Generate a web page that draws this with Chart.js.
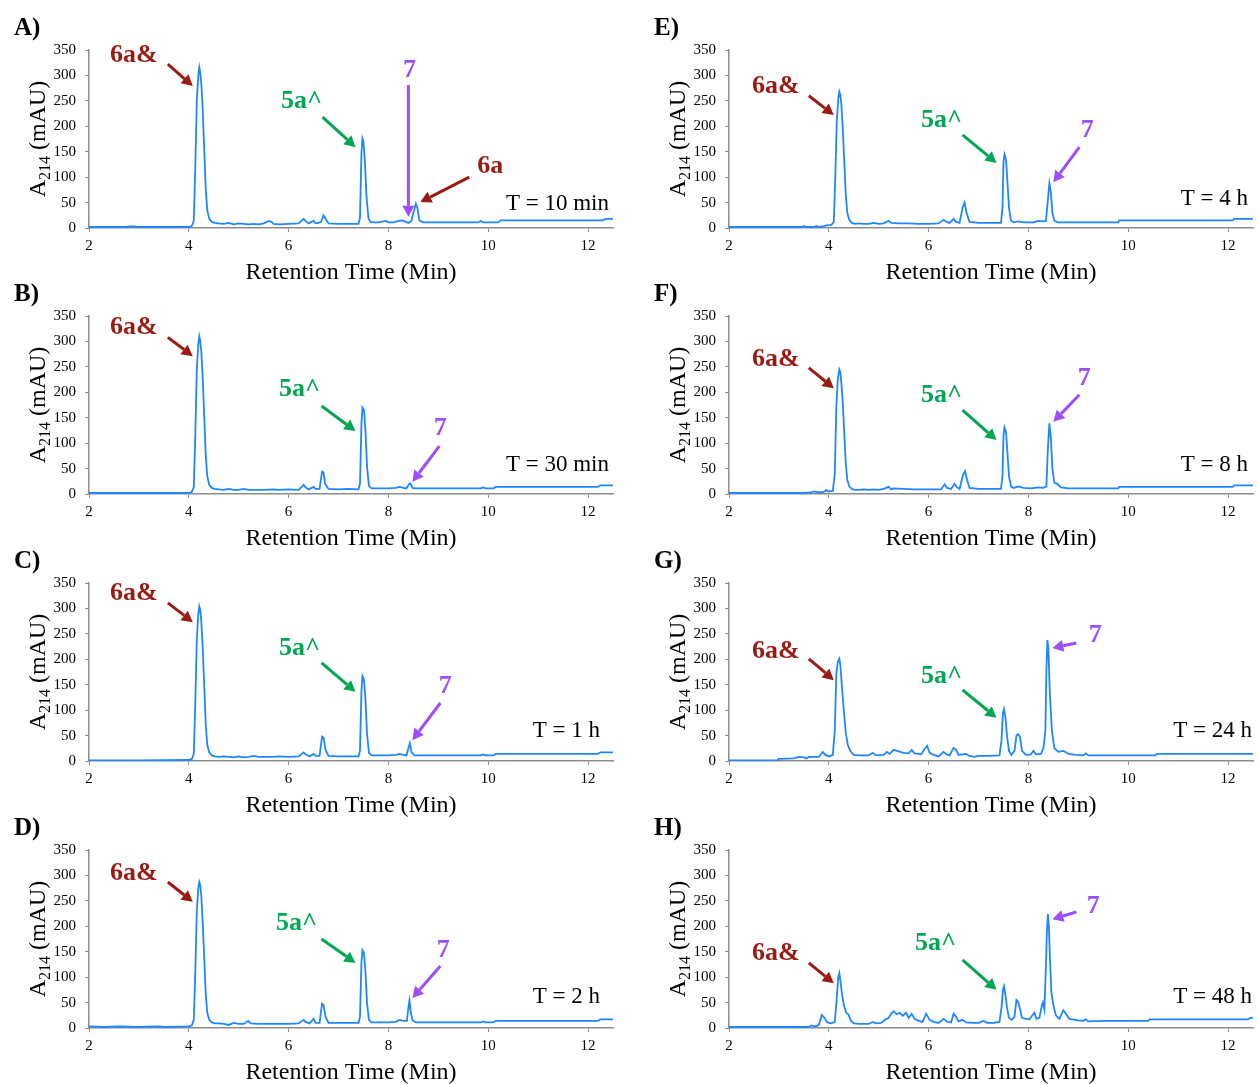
<!DOCTYPE html>
<html>
<head>
<meta charset="utf-8">
<script src="https://cdn.jsdelivr.net/npm/chart.js@4/dist/chart.umd.min.js"></script>
<style>
  body { margin: 0; background: #fff; width: 1259px; height: 1084px; position: relative; overflow: hidden; }
  canvas { position: absolute; }
</style>
</head>
<body>
<script>
// HPLC traces, [retention time (min), A214 (mAU)]
const traceA = [[2.0,2],[2.75,2],[2.8,3],[2.9,3],[2.95,2],[4.0,2],[4.06,4],[4.1,14],[4.13,120],[4.16,250],[4.19,300],[4.21,316],[4.23,305],[4.25,285],[4.28,230],[4.31,150],[4.34,75],[4.37,35],[4.41,18],[4.46,12],[4.52,10],[4.6,9],[4.7,8],[4.8,10],[4.9,7],[5.0,9],[5.1,8],[5.2,7],[5.3,8],[5.4,7],[5.5,9],[5.6,14],[5.65,12],[5.7,8],[5.8,7],[6.0,8],[6.2,9],[6.3,18],[6.34,14],[6.4,9],[6.5,14],[6.53,10],[6.57,9],[6.65,12],[6.7,25],[6.74,18],[6.8,9],[7.0,8],[7.2,8],[7.4,8],[7.43,20],[7.46,150],[7.48,176],[7.5,170],[7.53,127],[7.56,62],[7.6,19],[7.64,12],[7.7,11],[7.8,11],[7.95,14],[8.0,11],[8.1,11],[8.2,14],[8.28,15],[8.35,12],[8.4,10],[8.46,14],[8.5,30],[8.55,48],[8.58,40],[8.62,15],[8.7,11],[9.0,11],[9.5,11],[9.8,11],[9.85,14],[9.9,11],[10.2,11],[10.25,15],[11.0,15],[12.0,15],[12.3,15],[12.35,18],[12.5,18]];
const traceB = [[2.0,2],[3.0,2],[4.0,2],[4.06,4],[4.1,14],[4.13,115],[4.16,245],[4.19,295],[4.21,310],[4.23,300],[4.25,280],[4.28,225],[4.31,150],[4.34,75],[4.37,35],[4.41,18],[4.46,12],[4.52,10],[4.6,9],[4.7,8],[4.8,10],[4.9,8],[5.0,8],[5.1,10],[5.2,8],[5.3,8],[5.5,8],[5.7,9],[5.8,8],[6.0,9],[6.2,8],[6.3,18],[6.34,13],[6.4,9],[6.5,14],[6.54,10],[6.62,10],[6.67,44],[6.7,42],[6.73,20],[6.8,10],[7.0,9],[7.2,10],[7.4,9],[7.43,20],[7.46,140],[7.48,170],[7.51,165],[7.54,125],[7.57,55],[7.61,16],[7.66,11],[7.8,11],[8.0,11],[8.15,12],[8.22,14],[8.3,12],[8.36,11],[8.41,19],[8.44,21],[8.48,12],[8.55,11],[9.0,11],[9.5,11],[9.85,11],[9.9,13],[9.95,11],[10.1,11],[10.15,14],[11.0,14],[12.0,14],[12.2,14],[12.25,17],[12.5,17]];
const traceC = [[2.0,1],[3.0,1],[4.0,2],[4.06,4],[4.1,14],[4.13,115],[4.16,240],[4.19,290],[4.21,304],[4.23,296],[4.25,275],[4.28,220],[4.31,145],[4.34,70],[4.37,32],[4.41,17],[4.46,11],[4.52,9],[4.6,8],[4.7,9],[4.8,8],[4.9,7],[5.0,9],[5.1,7],[5.2,8],[5.3,10],[5.4,8],[5.5,8],[5.7,8],[5.8,9],[6.0,8],[6.2,9],[6.3,17],[6.34,13],[6.42,9],[6.5,14],[6.54,10],[6.62,10],[6.67,48],[6.7,46],[6.74,22],[6.8,10],[7.0,9],[7.2,9],[7.4,9],[7.43,20],[7.46,140],[7.48,167],[7.51,160],[7.54,120],[7.57,55],[7.61,16],[7.66,11],[7.8,11],[8.0,11],[8.15,12],[8.22,14],[8.3,12],[8.36,11],[8.4,25],[8.43,35],[8.46,18],[8.52,11],[9.0,11],[9.5,11],[9.85,11],[9.9,13],[9.95,11],[10.1,11],[10.15,14],[11.0,14],[12.0,14],[12.2,14],[12.25,17],[12.5,17]];
const traceD = [[2.0,3],[2.3,2],[2.6,3],[3.0,2],[3.4,3],[3.5,2],[4.0,3],[4.06,5],[4.1,16],[4.13,110],[4.16,230],[4.19,275],[4.21,287],[4.23,280],[4.25,260],[4.28,205],[4.31,135],[4.34,65],[4.37,30],[4.41,16],[4.46,11],[4.52,9],[4.6,9],[4.7,8],[4.8,6],[4.9,10],[5.0,8],[5.1,8],[5.19,14],[5.24,9],[5.4,8],[5.6,8],[5.8,8],[6.0,8],[6.2,9],[6.3,16],[6.34,12],[6.42,9],[6.5,18],[6.54,10],[6.62,10],[6.67,48],[6.7,45],[6.74,22],[6.8,10],[7.0,10],[7.2,10],[7.4,10],[7.43,22],[7.46,130],[7.48,153],[7.51,148],[7.54,110],[7.57,50],[7.61,16],[7.66,11],[7.8,11],[8.0,11],[8.15,12],[8.22,16],[8.3,14],[8.37,14],[8.4,40],[8.42,54],[8.45,30],[8.48,16],[8.55,11],[9.0,11],[9.5,11],[9.85,11],[9.9,13],[9.95,11],[10.1,11],[10.15,14],[11.0,14],[12.0,14],[12.2,14],[12.25,17],[12.5,17]];
const traceE = [[2.0,2],[3.0,2],[3.45,2],[3.5,4],[3.55,2],[3.7,2],[3.75,4],[3.8,2],[3.9,3],[3.95,5],[4.05,6],[4.1,12],[4.13,100],[4.16,210],[4.19,255],[4.21,268],[4.23,262],[4.25,245],[4.28,195],[4.31,130],[4.34,65],[4.37,30],[4.41,16],[4.46,10],[4.52,8],[4.6,9],[4.7,8],[4.8,8],[4.9,10],[5.0,8],[5.1,9],[5.2,14],[5.25,10],[5.4,9],[5.6,9],[5.8,8],[6.0,8],[6.2,9],[6.3,16],[6.36,12],[6.42,10],[6.5,18],[6.55,12],[6.62,10],[6.68,40],[6.72,50],[6.76,30],[6.82,12],[7.0,10],[7.2,10],[7.45,10],[7.48,40],[7.5,130],[7.52,145],[7.55,135],[7.58,90],[7.61,40],[7.65,15],[7.7,11],[7.8,13],[7.9,11],[8.1,11],[8.2,14],[8.28,13],[8.35,14],[8.39,55],[8.42,88],[8.45,70],[8.48,30],[8.52,14],[8.6,11],[9.0,11],[9.5,11],[9.8,11],[9.82,15],[11.0,15],[12.0,15],[12.1,15],[12.12,18],[12.5,18]];
const traceF = [[2.0,2],[3.0,2],[3.5,2],[3.65,3],[3.7,5],[3.8,3],[3.9,4],[3.95,8],[4.0,5],[4.08,6],[4.12,40],[4.15,170],[4.18,225],[4.21,245],[4.23,240],[4.25,220],[4.28,180],[4.31,120],[4.34,60],[4.37,28],[4.41,15],[4.46,10],[4.52,8],[4.6,8],[4.7,9],[4.8,8],[4.9,9],[5.0,8],[5.1,10],[5.2,14],[5.25,9],[5.3,11],[5.5,10],[5.7,9],[5.9,9],[6.1,9],[6.25,9],[6.32,19],[6.37,12],[6.45,10],[6.52,20],[6.56,14],[6.62,10],[6.69,38],[6.73,45],[6.77,28],[6.82,12],[7.0,10],[7.2,10],[7.45,10],[7.48,35],[7.5,115],[7.52,131],[7.55,122],[7.58,80],[7.61,35],[7.65,15],[7.7,12],[7.8,15],[7.9,12],[8.05,11],[8.2,13],[8.3,12],[8.36,15],[8.39,90],[8.42,139],[8.45,110],[8.48,50],[8.52,22],[8.58,20],[8.65,13],[8.8,11],[9.5,11],[9.8,11],[9.82,14],[11.0,14],[12.0,14],[12.1,14],[12.12,17],[12.5,17]];
const traceG = [[2.0,1],[2.97,1],[2.99,4],[3.3,5],[3.4,8],[3.5,7],[3.55,5],[3.6,8],[3.8,8],[3.88,18],[3.93,12],[4.0,9],[4.08,12],[4.12,60],[4.15,170],[4.18,195],[4.21,201],[4.23,190],[4.26,150],[4.3,100],[4.34,55],[4.38,32],[4.43,20],[4.5,12],[4.6,11],[4.8,11],[4.88,16],[4.95,11],[5.1,12],[5.16,18],[5.22,14],[5.3,22],[5.4,19],[5.5,16],[5.6,15],[5.66,22],[5.72,15],[5.85,13],[5.93,25],[5.97,30],[6.02,16],[6.1,12],[6.2,9],[6.3,18],[6.36,13],[6.42,11],[6.5,26],[6.55,22],[6.6,12],[6.75,14],[6.82,10],[6.92,8],[7.0,10],[7.2,10],[7.42,11],[7.46,40],[7.49,95],[7.51,102],[7.54,85],[7.57,50],[7.61,20],[7.66,12],[7.72,20],[7.76,50],[7.79,53],[7.83,48],[7.87,20],[7.95,12],[8.05,13],[8.1,20],[8.15,13],[8.25,14],[8.3,25],[8.34,60],[8.36,180],[8.38,238],[8.4,220],[8.43,130],[8.47,60],[8.52,25],[8.6,18],[8.7,20],[8.8,14],[8.95,12],[9.1,11],[9.15,15],[9.2,11],[9.5,11],[10.0,11],[10.55,11],[10.57,14],[12.5,14]];
const traceH = [[2.0,2],[3.6,2],[3.65,5],[3.72,3],[3.8,6],[3.86,26],[3.91,20],[3.97,11],[4.05,9],[4.12,12],[4.16,60],[4.19,100],[4.21,108],[4.23,95],[4.26,70],[4.3,45],[4.35,30],[4.39,27],[4.44,15],[4.5,9],[4.6,8],[4.8,8],[4.88,12],[4.95,9],[5.05,10],[5.12,16],[5.2,20],[5.25,28],[5.3,33],[5.36,27],[5.42,30],[5.48,24],[5.55,30],[5.6,20],[5.66,28],[5.72,18],[5.8,14],[5.88,12],[5.95,28],[6.02,16],[6.1,12],[6.2,10],[6.3,18],[6.38,12],[6.45,11],[6.5,28],[6.55,22],[6.6,13],[6.68,16],[6.75,11],[6.9,10],[7.0,10],[7.1,14],[7.18,10],[7.3,10],[7.42,12],[7.46,40],[7.49,75],[7.51,82],[7.54,65],[7.57,40],[7.61,20],[7.66,16],[7.72,22],[7.76,55],[7.79,52],[7.83,38],[7.87,20],[7.95,18],[8.02,17],[8.08,25],[8.12,30],[8.16,18],[8.22,20],[8.27,45],[8.29,50],[8.32,36],[8.35,120],[8.37,190],[8.39,224],[8.41,200],[8.43,140],[8.46,70],[8.5,45],[8.55,25],[8.62,18],[8.7,35],[8.75,28],[8.82,18],[9.0,15],[9.1,14],[9.15,17],[9.2,13],[9.5,14],[10.0,14],[10.4,14],[10.43,17],[12.0,17],[12.4,17],[12.45,20],[12.5,20]];

const timeLabels = ['T = 10 min', 'T = 30 min', 'T = 1 h', 'T = 2 h', 'T = 4 h', 'T = 8 h', 'T = 24 h', 'T = 48 h'];
const panelLetters = ['A)', 'B)', 'C)', 'D)', 'E)', 'F)', 'G)', 'H)'];
const xTicks = [2, 4, 6, 8, 10, 12];

const RED = '#9A1B12', GREEN = '#00A651', PURPLE = '#9D4DFA', TRACE = '#1E86FF', AXIS = '#8C8C8C';
const SERIF = '"Liberation Serif", "Times New Roman", serif';

// peak labels and arrows, placed in data units (min, mAU)
const notes = [
  [{t:'6a&', c:RED, at:[2.9,340], from:[3.58,322], to:[4.08,279]},
   {t:'5a^', c:GREEN, at:[6.26,250], from:[6.68,218], to:[7.34,159]},
   {t:'7', c:PURPLE, at:[8.42,311], from:[8.4,281], to:[8.4,22]},
   {t:'6a', c:RED, at:[10.04,122], from:[9.62,100], to:[8.64,51]}],
  [{t:'6a&', c:RED, at:[2.9,328], from:[3.58,308], to:[4.08,271]},
   {t:'5a^', c:GREEN, at:[6.22,206], from:[6.66,173], to:[7.34,124]},
   {t:'7', c:PURPLE, at:[9.04,130], from:[9.02,94], to:[8.48,24]}],
  [{t:'6a&', c:RED, at:[2.9,330], from:[3.58,311], to:[4.08,273]},
   {t:'5a^', c:GREEN, at:[6.22,222], from:[6.66,193], to:[7.34,136]},
   {t:'7', c:PURPLE, at:[9.14,147], from:[9.04,114], to:[8.48,41]}],
  [{t:'6a&', c:RED, at:[2.9,305], from:[3.58,287], to:[4.08,248]},
   {t:'5a^', c:GREEN, at:[6.16,206], from:[6.66,175], to:[7.34,128]},
   {t:'7', c:PURPLE, at:[9.1,153], from:[9.04,122], to:[8.48,59]}],
  [{t:'6a&', c:RED, at:[2.94,279], from:[3.6,260], to:[4.1,222]},
   {t:'5a^', c:GREEN, at:[6.26,212], from:[6.68,183], to:[7.36,128]},
   {t:'7', c:PURPLE, at:[9.18,193], from:[9.02,159], to:[8.5,90]}],
  [{t:'6a&', c:RED, at:[2.94,265], from:[3.6,248], to:[4.1,208]},
   {t:'5a^', c:GREEN, at:[6.26,195], from:[6.68,165], to:[7.36,106]},
   {t:'7', c:PURPLE, at:[9.12,228], from:[9.02,195], to:[8.5,142]}],
  [{t:'6a&', c:RED, at:[2.94,216], from:[3.6,201], to:[4.1,159]},
   {t:'5a^', c:GREEN, at:[6.26,167], from:[6.68,140], to:[7.36,85]},
   {t:'7', c:PURPLE, at:[9.34,248], from:[8.96,232], to:[8.48,222]}],
  [{t:'6a&', c:RED, at:[2.94,147], from:[3.6,128], to:[4.1,88]},
   {t:'5a^', c:GREEN, at:[6.14,167], from:[6.68,134], to:[7.36,75]},
   {t:'7', c:PURPLE, at:[9.3,240], from:[8.96,228], to:[8.48,214]}]
];
const timeAt = [[12.42,47],[12.42,57],[12.24,59],[12.24,61],[12.4,57],[12.4,57],[12.48,59],[12.48,61]];

const traces = [traceA, traceB, traceC, traceD, traceE, traceF, traceG, traceH];

function arrow(ctx, x1, y1, x2, y2, color) {
  const ang = Math.atan2(y2 - y1, x2 - x1);
  const head = 11, half = 6;
  const bx = x2 - head * Math.cos(ang), by = y2 - head * Math.sin(ang);
  ctx.strokeStyle = color;
  ctx.fillStyle = color;
  ctx.lineWidth = 3;
  ctx.beginPath();
  ctx.moveTo(x1, y1);
  ctx.lineTo(bx, by);
  ctx.stroke();
  ctx.beginPath();
  ctx.moveTo(x2, y2);
  ctx.lineTo(bx + half * Math.sin(ang), by - half * Math.cos(ang));
  ctx.lineTo(bx - half * Math.sin(ang), by + half * Math.cos(ang));
  ctx.closePath();
  ctx.fill();
}

const panelText = {
  id: 'panelText',
  afterDraw(chart, args, opts) {
    const ctx = chart.ctx;
    const xs = chart.scales.x, ys = chart.scales.y;
    const area = chart.chartArea;
    ctx.save();

    // panel letter
    ctx.fillStyle = '#000';
    ctx.font = 'bold 25px ' + SERIF;
    ctx.textAlign = 'left';
    ctx.textBaseline = 'alphabetic';
    ctx.fillText(opts.letter, 14, 35);

    // y title with subscript
    ctx.save();
    ctx.translate(45, (area.top + area.bottom) / 2);
    ctx.rotate(-Math.PI / 2);
    const big = '24px ' + SERIF, small = '16px ' + SERIF;
    ctx.font = big; const wA = ctx.measureText('A').width; const wR = ctx.measureText(' (mAU)').width;
    ctx.font = small; const wS = ctx.measureText('214').width;
    let px = -(wA + wS + wR) / 2;
    ctx.font = big; ctx.fillText('A', px, 0); px += wA;
    ctx.font = small; ctx.fillText('214', px, 5); px += wS;
    ctx.font = big; ctx.fillText(' (mAU)', px, 0);
    ctx.restore();

    // x title
    ctx.font = '24px ' + SERIF;
    ctx.textAlign = 'center';
    ctx.textBaseline = 'middle';
    ctx.fillText('Retention Time (Min)', (area.left + area.right) / 2, area.bottom + 45);

    // sampling time
    ctx.font = '23px ' + SERIF;
    ctx.textAlign = 'right';
    ctx.fillText(opts.time, xs.getPixelForValue(opts.timeAt[0]), ys.getPixelForValue(opts.timeAt[1]));

    // peak labels
    opts.notes.forEach(n => {
      arrow(ctx, xs.getPixelForValue(n.from[0]), ys.getPixelForValue(n.from[1]),
        xs.getPixelForValue(n.to[0]), ys.getPixelForValue(n.to[1]), n.c);
      ctx.fillStyle = n.c;
      ctx.font = 'bold 26px ' + SERIF;
      ctx.textAlign = 'center';
      ctx.textBaseline = 'middle';
      ctx.fillText(n.t, xs.getPixelForValue(n.at[0]), ys.getPixelForValue(n.at[1]));
    });
    ctx.restore();
  }
};

const lefts = [0, 640];
const tops = [0, 266, 533, 800];

traces.forEach((trace, i) => {
  const cv = document.createElement('canvas');
  cv.width = 619;
  cv.height = 284;
  cv.style.left = lefts[Math.floor(i / 4)] + 'px';
  cv.style.top = tops[i % 4] + 'px';
  document.body.appendChild(cv);

  new Chart(cv, {
    type: 'line',
    data: {
      datasets: [{
        data: trace.map(([t, a]) => ({ x: t, y: a })),
        borderColor: TRACE,
        borderWidth: 1.8,
        pointRadius: 0,
        tension: 0
      }]
    },
    options: {
      responsive: false,
      animation: false,
      layout: { padding: { top: 50, right: 6, left: 0, bottom: 0 } },
      plugins: {
        legend: { display: false },
        tooltip: { enabled: false },
        panelText: { letter: panelLetters[i], time: timeLabels[i], timeAt: timeAt[i], notes: notes[i] }
      },
      scales: {
        x: {
          type: 'linear',
          min: 2,
          max: 12.5,
          afterBuildTicks: s => { s.ticks = xTicks.map(v => ({ value: v })); },
          afterFit: s => { s.height = 56; },
          ticks: { color: '#000', padding: 5, font: { family: SERIF, size: 15 } },
          grid: { drawOnChartArea: false, tickLength: 4, color: AXIS },
          border: { color: AXIS, width: 1.5 }
        },
        y: {
          min: 0,
          max: 350,
          ticks: { stepSize: 50, color: '#000', padding: 9, font: { family: SERIF, size: 15 } },
          afterFit: s => { s.width = 89; },
          grid: { drawOnChartArea: false, tickLength: 4, color: AXIS },
          border: { color: AXIS, width: 1.5 }
        }
      }
    },
    plugins: [panelText]
  });
});
</script>
</body>
</html>
